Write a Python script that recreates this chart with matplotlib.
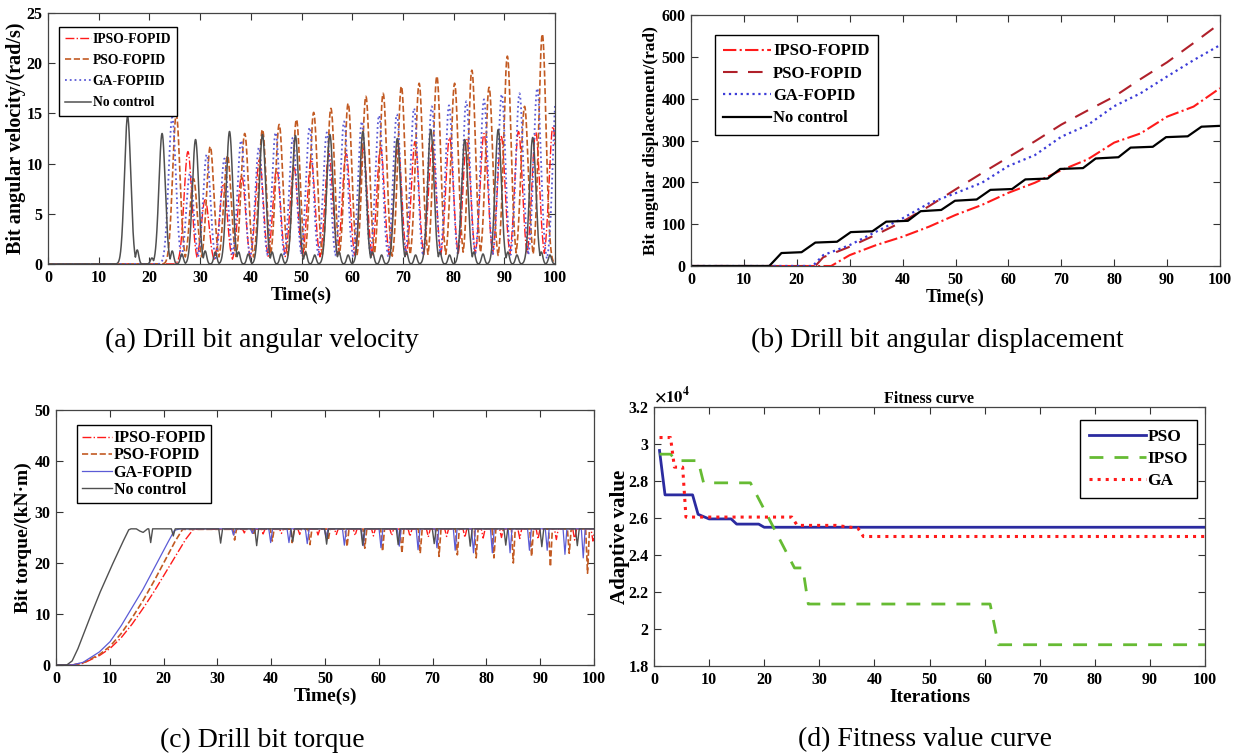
import numpy as np
import matplotlib
matplotlib.use("Agg")
import matplotlib.pyplot as plt
from matplotlib.ticker import FuncFormatter

plt.rcParams['font.family'] = ['Liberation Serif', 'DejaVu Serif']
plt.rcParams['font.weight'] = 'bold'
plt.rcParams['axes.labelweight'] = 'bold'
plt.rcParams['mathtext.fontset'] = 'stix'

# ---- (a) bit angular velocity: peak times (s) and peak values (rad/s)
nc_peak_t = [15.7, 22.5, 29.1, 35.8, 42.3, 48.8, 55.6, 62.1, 68.9, 75.5, 82.2, 88.8, 95.6]
nc_peak_v = [14.7, 13.0, 12.4, 13.2, 12.9, 12.8, 12.9, 13.2, 12.5, 13.4, 12.4, 13.4, 12.6]
nc_bump_t = [17.6, 20.5, 24.5, 26.4, 31.0, 33.0, 37.6, 39.5, 44.2, 46.0, 50.8, 52.6,
             57.4, 59.2, 64.0, 65.8, 70.7, 72.5, 77.3, 79.2, 84.0, 85.8, 90.7, 92.5, 97.3, 99.0]
nc_bump_v = [1.4, 0.6, 1.3, 1.0, 1.3, 1.2, 1.2, 1.0, 1.2, 1.0, 1.2, 0.9,
             1.2, 0.9, 1.2, 0.9, 1.2, 0.9, 1.2, 0.9, 1.2, 1.0, 1.2, 0.9, 1.2, 0.9]
ga_peak_t = [24.5, 28.0, 31.3, 34.8, 38.1, 41.6, 44.9, 48.3, 51.6, 55.0, 58.4, 61.9,
             65.3, 68.8, 72.2, 75.7, 79.1, 82.5, 86.0, 89.5, 93.0, 96.5, 100.3]
ga_peak_v = [14.6, 9.0, 10.9, 10.5, 12.3, 11.6, 13.1, 12.6, 13.6, 13.1, 14.2, 14.2,
             14.8, 14.9, 15.5, 15.7, 15.8, 16.2, 16.4, 16.9, 17.0, 17.5, 17.2]
pso_peak_t = [25.3, 28.7, 32.0, 35.4, 38.8, 42.3, 45.6, 49.0, 52.4, 55.8, 59.2,
              62.7, 66.1, 69.7, 73.2, 76.7, 80.2, 83.6, 87.0, 90.6, 94.0, 97.5]
pso_peak_v = [14.9, 8.5, 11.7, 10.8, 13.0, 13.4, 13.9, 14.4, 15.1, 15.5, 16.0,
              16.7, 17.0, 17.7, 18.0, 18.7, 18.0, 19.3, 17.6, 20.7, 15.7, 22.9]
ipso_peak_t = [27.6, 31.0, 34.6, 38.2, 41.7, 45.1, 48.5, 51.9, 55.4, 58.8, 62.2,
               65.6, 69.0, 72.4, 75.8, 79.2, 82.6, 86.0, 89.4, 92.8, 96.2, 99.6]
ipso_peak_v = [11.2, 6.4, 8.0, 8.8, 10.4, 9.5, 9.7, 10.4, 11.0, 11.0, 11.5,
               11.6, 12.0, 12.2, 11.9, 12.6, 12.4, 13.0, 12.7, 13.2, 13.1, 13.7]

# ---- (b) bit angular displacement (rad)
nc_disp_t = [0, 14.8, 17.1, 20.9, 23.5, 27.6, 30.2, 34.3, 36.9, 41.0, 43.4, 47.3, 49.9, 54.0,
             56.6, 60.7, 63.2, 67.4, 69.8, 74.1, 76.5, 80.8, 83.1, 87.3, 89.8, 93.9, 96.5, 100]
nc_disp_v = [0, 0, 31, 33, 56, 58, 81, 83, 106, 108, 131, 134, 156, 159,
             182, 184, 207, 209, 232, 234, 257, 260, 283, 285, 308, 310, 333, 335]
pso_disp_t = [0, 23.5, 25, 30, 35, 40, 45, 50, 55, 60, 65, 70, 75, 80, 85, 90, 95, 100]
pso_disp_v = [0, 0, 21, 46, 75, 106, 143, 183, 222, 260, 298, 338, 372, 405, 447, 487, 533, 580]
ga_disp_t = [0, 23, 25, 30, 35, 40, 45, 50, 55, 60, 65, 70, 75, 80, 85, 90, 95, 100]
ga_disp_v = [0, 0, 26, 50, 82, 114, 150, 174, 199, 239, 265, 309, 337, 382, 413, 453, 492, 528]
ipso_disp_t = [0, 26.5, 30, 35, 40, 45, 50, 55, 60, 65, 70, 75, 80, 85, 90, 95, 100]
ipso_disp_v = [0, 0, 26, 50, 70, 94, 122, 146, 175, 199, 229, 255, 295, 317, 357, 381, 425]

# ---- (c) bit torque (kN*m): start-up ramp, plateau level, periodic dips
nc_ramp_t = [0, 2, 3, 4, 6, 8, 10, 12, 13.5, 14.5, 15.5, 16.2, 17.0]
nc_ramp_v = [0, 0, 0.8, 3.0, 8.5, 13.8, 18.6, 23.2, 26.5, 27.0, 26.3, 26.0, 26.7]
ga_ramp_t = [0, 3, 5, 8, 10, 12, 14, 16, 18, 20, 22, 23]
ga_ramp_v = [0, 0, 0.5, 2.5, 4.5, 7.5, 11.0, 14.5, 18.5, 22.5, 26.4, 26.7]
pso_ramp_t = [0, 3, 5, 8, 10, 12, 14, 16, 18, 20, 22, 23.5]
pso_ramp_v = [0, 0, 0.4, 2.0, 3.6, 6.0, 9.0, 12.3, 16.0, 20.0, 24.0, 26.6]
ipso_ramp_t = [0, 3, 5, 8, 10, 12, 14, 16, 18, 20, 22, 24, 25.5]
ipso_ramp_v = [0, 0, 0.3, 1.8, 3.2, 5.2, 7.8, 10.8, 14.0, 17.5, 21.0, 24.5, 26.6]
torque_level = 26.7
nc_dip_t = [17.6, 21.8, 30.6, 37.3, 44.0, 50.3, 57.0, 63.6, 70.3, 77.0, 83.6, 90.3, 96.9]
nc_dip_v = [24.0, 25.3, 23.9, 23.4, 24.2, 23.7, 23.5, 23.6, 23.8, 23.3, 23.5, 23.2, 23.4]
ga_dip_t = [33.0, 36.5, 39.9, 43.3, 46.7, 50.2, 53.6, 57.1, 60.4, 63.8, 67.3, 70.8,
            74.2, 77.6, 81.1, 84.4, 88.0, 91.3, 94.6, 98.0]
ga_dip_v = [25.5, 25.8, 24.0, 24.0, 23.8, 25.0, 23.5, 23.4, 23.0, 23.3, 22.6, 23.0,
            22.5, 22.0, 22.0, 22.0, 22.5, 22.5, 21.7, 21.0]
pso_dip_t = [33.2, 36.7, 40.2, 43.9, 47.2, 50.6, 54.1, 57.4, 60.7, 64.3, 67.7, 71.2,
             74.6, 78.1, 81.4, 85.0, 88.4, 91.9, 95.4, 98.8]
pso_dip_v = [24.5, 25.5, 24.3, 24.0, 23.6, 24.5, 23.2, 22.9, 22.3, 21.9, 21.9, 21.3,
             21.6, 21.0, 21.0, 20.0, 21.3, 19.3, 21.9, 18.0]
ipso_dip_t = [35.0, 38.5, 41.9, 45.3, 48.7, 52.1, 55.6, 59.0, 62.4, 65.8, 69.2, 72.6,
              76.0, 79.4, 82.8, 86.2, 89.6, 93.0, 96.4, 99.8]
ipso_dip_v = [25.9, 25.7, 25.8, 25.6, 25.5, 25.6, 25.4, 25.3, 25.4, 25.2, 25.1, 25.2,
              25.0, 24.9, 25.0, 24.8, 24.7, 24.6, 24.5, 24.3]

# ---- (d) fitness curves (adaptive value)
pso_fit_it = [1, 2, 7, 8, 10, 14, 15, 19, 20, 100]
pso_fit_v = [2.965e4, 2.725e4, 2.725e4, 2.62e4, 2.595e4, 2.595e4, 2.567e4, 2.567e4, 2.55e4, 2.55e4]
ipso_fit_it = [1, 3, 4, 8, 9, 17.5, 25.5, 27, 28, 61, 62.5, 100]
ipso_fit_v = [2.945e4, 2.945e4, 2.91e4, 2.91e4, 2.79e4, 2.79e4, 2.33e4, 2.33e4,
              2.135e4, 2.135e4, 1.915e4, 1.915e4]
ga_fit_it = [1, 3, 3.7, 5.2, 5.8, 25, 26, 33, 37, 38, 100]
ga_fit_v = [3.035e4, 3.035e4, 2.875e4, 2.875e4, 2.605e4, 2.605e4, 2.56e4, 2.56e4,
            2.545e4, 2.5e4, 2.5e4]

t = np.linspace(0, 100, 5001)


def pulses(times, heights, width):
    # each oscillation lobe as a smooth bump, overlapping lobes take the max
    y = np.zeros_like(t)
    for tc, h in zip(times, heights):
        y = np.maximum(y, h * np.exp(-0.5 * ((t - tc) / width) ** 2))
    return y


def torque(ramp_t, ramp_v, dip_t, dip_v, w=0.35):
    y = np.interp(t, ramp_t + [100], ramp_v + [torque_level])
    for td, vd in zip(dip_t, dip_v):
        y = np.minimum(y, vd + (torque_level - vd) * np.clip(np.abs(t - td) / w, 0, 1))
    return y


W, H = 1233, 755
fig = plt.figure(figsize=(W / 100, H / 100), dpi=100)


def box(l, top, r, b):
    return [l / W, 1 - b / H, (r - l) / W, (b - top) / H]


def style(ax, xmax, ymin, ymax, ystep):
    ax.set_xlim(0, xmax)
    ax.set_ylim(ymin, ymax)
    ax.set_xticks(np.arange(0, xmax + 1, 10))
    ax.set_yticks(np.arange(ymin, ymax + ystep / 2, ystep))
    ax.tick_params(direction='in', top=True, right=True, length=5, width=0.8,
                   colors='#333333', labelsize=11.5, pad=4)
    for lab in ax.get_xticklabels() + ax.get_yticklabels():
        lab.set_fontweight('bold')
        lab.set_color('black')
    for s in ax.spines.values():
        s.set_color('#444444')
        s.set_linewidth(0.9)


def legend(ax, anchor, loc, fs, spacing, hl=1.9, bp=0.45):
    lg = ax.legend(loc=loc, bbox_to_anchor=anchor, fancybox=False, edgecolor='black',
                   framealpha=1, prop={'weight': 'bold', 'size': fs}, handlelength=hl,
                   handletextpad=0.1, labelspacing=spacing, borderpad=bp, borderaxespad=0)
    lg.get_frame().set_linewidth(1.0)


# (a)
ax = fig.add_axes(box(48, 13, 555, 264))
ax.plot(t, pulses(ipso_peak_t, ipso_peak_v, 0.75), color='#ff1a1a', ls='-.', lw=1.0, label='IPSO-FOPID')
ax.plot(t, pulses(pso_peak_t, pso_peak_v, 0.72), color='#c25a22', ls='--', lw=1.2, label='PSO-FOPID')
ax.plot(t, pulses(ga_peak_t, ga_peak_v, 0.72), color='#5b5bd6', ls=':', lw=1.3, label='GA-FOPIID')
ax.plot(t, np.maximum(pulses(nc_peak_t, nc_peak_v, 0.62), pulses(nc_bump_t, nc_bump_v, 0.3)),
        color='#505050', ls='-', lw=1.1, label='No control')
style(ax, 100, 0, 25, 5)
ax.set_xlabel('Time(s)', fontsize=13.5, labelpad=1)
ax.set_ylabel('Bit angular velocity/(rad/s)', fontsize=14.5, labelpad=0)
legend(ax, (0.022, 0.945), 'upper left', 9.8, 0.6)

# (b)
ax = fig.add_axes(box(691, 15, 1220, 266))
ax.plot(ipso_disp_t, ipso_disp_v, color='#ff1a1a', ls='-.', lw=1.5, label='IPSO-FOPID')
ax.plot(pso_disp_t, pso_disp_v, color='#b0202a', ls=(0, (7, 5)), lw=1.5, label='PSO-FOPID')
ax.plot(ga_disp_t, ga_disp_v, color='#3c3cd8', ls=':', lw=1.6, label='GA-FOPID')
ax.plot(nc_disp_t, nc_disp_v, color='black', ls='-', lw=1.6, label='No control')
style(ax, 100, 0, 600, 100)
ax.set_xlabel('Time(s)', fontsize=13, labelpad=1)
ax.set_ylabel('Bit angular displacement/(rad)', fontsize=12.5, labelpad=2)
legend(ax, (0.045, 0.92), 'upper left', 12, 0.38, hl=2.9, bp=0.5)

# (c)
ax = fig.add_axes(box(56, 410, 594, 665))
ax.plot(t, torque(ipso_ramp_t, ipso_ramp_v, ipso_dip_t, ipso_dip_v), color='#ff1a1a', ls='-.', lw=1.0, label='IPSO-FOPID')
ax.plot(t, torque(pso_ramp_t, pso_ramp_v, pso_dip_t, pso_dip_v), color='#c25a22', ls='--', lw=1.2, label='PSO-FOPID')
ax.plot(t, torque(ga_ramp_t, ga_ramp_v, ga_dip_t, ga_dip_v), color='#5b5bd6', ls='-', lw=0.9, label='GA-FOPID')
ax.plot(t, torque(nc_ramp_t, nc_ramp_v, nc_dip_t, nc_dip_v), color='#505050', ls='-', lw=1.0, label='No control')
style(ax, 100, 0, 50, 10)
ax.set_xlabel('Time(s)', fontsize=14, labelpad=1)
ax.set_ylabel('Bit torque/(kN·m)', fontsize=14, labelpad=2)
legend(ax, (0.039, 0.94), 'upper left', 11.5, 0.08, bp=0.3)

# (d)
ax = fig.add_axes(box(654, 407, 1205, 666))
ax.plot(pso_fit_it, pso_fit_v, color='#2b2ba0', ls='-', lw=2.0, label='PSO')
ax.plot(ipso_fit_it, ipso_fit_v, color='#66bb33', ls=(0, (5, 4)), lw=2.0, label='IPSO')
ax.plot(ga_fit_it, ga_fit_v, color='#ff1a1a', ls=':', lw=2.2, label='GA')
style(ax, 100, 1.8e4, 3.2e4, 0.2e4)
ax.yaxis.set_major_formatter(FuncFormatter(lambda v, p: '%g' % round(v / 1e4, 2)))
ax.text(0.0, 1.005, r'$\times10^{4}$', transform=ax.transAxes, fontsize=12,
        fontweight='normal', va='bottom')
ax.set_title('Fitness curve', fontsize=11.5, fontweight='bold', pad=3)
ax.set_xlabel('Iterations', fontsize=14, labelpad=1)
ax.set_ylabel('Adaptive value', fontsize=15, labelpad=-1)
legend(ax, (0.985, 0.95), 'upper right', 12.5, 0.35, hl=3.3, bp=0.5)

# captions
cap = dict(fontsize=20, fontweight='normal', ha='center', va='center')
fig.text(262 / W, 1 - 340 / H, '(a) Drill bit angular velocity', **cap)
fig.text(937 / W, 1 - 340 / H, '(b) Drill bit angular displacement', **cap)
fig.text(262 / W, 1 - 740 / H, '(c) Drill bit torque', **cap)
fig.text(925 / W, 1 - 740 / H, '(d) Fitness value curve', **cap)

fig.savefig('out.png', dpi=100)
